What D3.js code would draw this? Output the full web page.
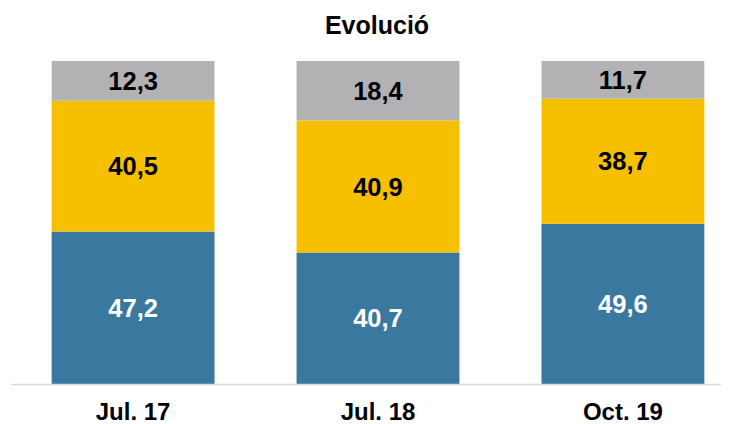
<!DOCTYPE html>
<meta charset="utf-8">
<style>
body { margin: 0; background: #fff; }
text { font-family: "Liberation Sans", Arial, sans-serif; font-weight: bold; }
</style>
<svg width="732" height="424"></svg>
<script src="https://d3js.org/d3.v7.min.js"></script>
<script>
var categories = ["Jul. 17", "Jul. 18", "Oct. 19"];
var blueValues = [47.2, 40.7, 49.6];
var yellowValues = [40.5, 40.9, 38.7];
var grayValues = [12.3, 18.4, 11.7];

var series = [
  { key: "blue", values: blueValues, fill: "#3a78a0", text: "#fff" },
  { key: "yellow", values: yellowValues, fill: "#f6c000", text: "#000" },
  { key: "gray", values: grayValues, fill: "#b2b2b4", text: "#000" }
];

var svg = d3.select("svg");

var x = d3.scaleBand()
    .domain(categories)
    .range([11, 745])
    .paddingInner(0.335)
    .paddingOuter(0.166);

var y = d3.scaleLinear()
    .domain([0, 100])
    .range([384, 61]);

// stack the segments per category
var rows = categories.map(function(c, i) {
  var r = { cat: c };
  series.forEach(function(s) { r[s.key] = s.values[i]; });
  return r;
});
var stacked = d3.stack().keys(series.map(function(s) { return s.key; }))(rows);

var layer = svg.selectAll(".layer")
    .data(stacked)
    .enter().append("g")
    .attr("class", "layer");

layer.each(function(ld, li) {
  var g = d3.select(this);
  g.selectAll("rect")
    .data(ld)
    .enter().append("rect")
    .attr("x", function(d) { return x(d.data.cat); })
    .attr("width", x.bandwidth())
    .attr("y", function(d) { return y(d[1]); })
    .attr("height", function(d) { return y(d[0]) - y(d[1]); })
    .attr("fill", series[li].fill);

  g.selectAll("text")
    .data(ld)
    .enter().append("text")
    .attr("x", function(d) { return x(d.data.cat) + x.bandwidth() / 2; })
    .attr("y", function(d) { return (y(d[0]) + y(d[1])) / 2; })
    .attr("dy", "0.36em")
    .attr("text-anchor", "middle")
    .style("font-size", "25.5px")
    .attr("fill", series[li].text)
    .text(function(d) { return d3.format(".1f")(d[1] - d[0]).replace(".", ","); });
});

// baseline
svg.append("line")
    .attr("x1", 11).attr("x2", 721)
    .attr("y1", y(0) + 0.5).attr("y2", y(0) + 0.5)
    .attr("stroke", "#d9d9d9")
    .attr("stroke-width", 1.5);

var xAxis = svg.append("g")
    .attr("transform", "translate(0," + y(0) + ")")
    .call(d3.axisBottom(x).tickSize(0).tickPadding(0));
xAxis.select(".domain").remove();
xAxis.selectAll("text")
    .attr("y", 36)
    .attr("dy", 0)
    .style("font-size", "24px")
    .attr("fill", "#000");

svg.append("text")
    .attr("x", 377)
    .attr("y", 34)
    .attr("text-anchor", "middle")
    .style("font-size", "25px")
    .attr("fill", "#000")
    .text("Evolució");
</script>
